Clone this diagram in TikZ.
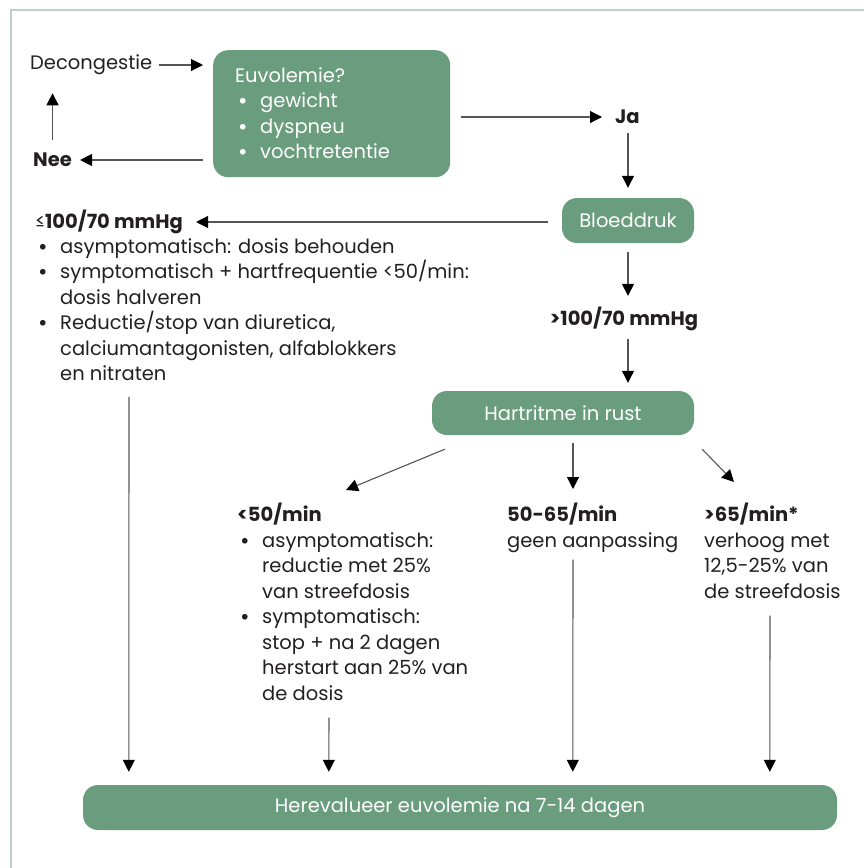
\documentclass[tikz,border=0pt]{standalone}
\usepackage{fontspec}
\setmainfont{Poppins}
\newfontfamily\symfont{DejaVu Sans}
\usetikzlibrary{arrows.meta}
\definecolor{boxgreen}{HTML}{6A9C7E}
\definecolor{framegreen}{HTML}{BCD2C4}
\definecolor{inkgray}{HTML}{231F20}
\definecolor{linegray}{HTML}{555555}
\newcommand{\bl}{\hspace*{2pt}\makebox[23pt][l]{\raisebox{-0.06em}{\symfont •}}}
\newcommand{\ind}{\hspace*{25pt}}

\begin{document}
\begin{tikzpicture}[x=1pt, y=-1pt,
  every node/.style={font=\fontsize{19.5}{25.5}\selectfont, text=inkgray},
  txt/.style={inner sep=0pt, align=left},
  hd/.style={inner sep=0pt, font=\fontsize{19.5}{25.5}\selectfont\bfseries},
  gbox/.style={fill=boxgreen, rounded corners=15pt, text=white, inner sep=0pt},
  arr/.style={draw=linegray, line width=1.1pt, -{Triangle[length=12pt,width=12pt,color=black]}}
]
\useasboundingbox (0,0) rectangle (864,868);
\draw[framegreen, line width=1.5pt] (11,868) -- (11,10) -- (864,10);

% top row
\node[gbox, minimum width=237pt, minimum height=127pt, anchor=north west, align=left, text width=193pt, inner xsep=22pt] (euvo) at (213,50) {Euvolemie?\\\bl gewicht\\\bl dyspneu\\\bl vochtretentie};
\node[txt, anchor=west] (decong) at (30,65) {Decongestie};
\node[hd, anchor=west] (nee) at (33,160) {Nee};
\node[hd, anchor=west] (ja) at (615,117) {Ja};

% blood pressure
\node[gbox, minimum width=132pt, minimum height=45pt] (bloed) at (628,220.5) {Bloeddruk};
\node[hd, anchor=west] (lowbp) at (35,222) {{\mdseries ≤}100/70 mmHg};
\node[txt, anchor=north west] (lowlist) at (35,238) {\bl asymptomatisch: dosis behouden\\\bl symptomatisch + hartfrequentie <50/min:\\\ind dosis halveren\\\bl Reductie/stop van diuretica,\\\ind calciumantagonisten, alfablokkers\\\ind en nitraten};
\node[hd] (highbp) at (624,319) {>100/70 mmHg};

% heart rate
\node[gbox, minimum width=262pt, minimum height=44pt] (hart) at (563,413) {Hartritme in rust};
\node[txt, anchor=north west] (slow) at (237,503) {\textbf{<50/min}\\\bl asymptomatisch:\\\ind reductie met 25\%\\\ind van streefdosis\\\bl symptomatisch:\\\ind stop + na 2 dagen\\\ind herstart aan 25\% van\\\ind de dosis};
\node[txt, anchor=north west] (mid) at (507,503) {\textbf{50-65/min}\\geen aanpassing};
\node[txt, anchor=north west] (fast) at (704,503) {\textbf{>65/min*}\\verhoog met\\12,5-25\% van\\de streefdosis};
\node[gbox, minimum width=754pt, minimum height=45pt] (eval) at (460,807.5) {Herevalueer euvolemie na 7-14 dagen};

\draw[arr, shorten <=6pt, shorten >=10pt] (decong.east) -- (decong.east -| euvo.west);
\draw[arr, shorten <=13pt, shorten >=18pt] (nee.north) -- (nee.north |- decong.south);
\draw[arr, shorten <=10pt, shorten >=8pt] (nee -| euvo.west) -- (nee.east);
\draw[arr, shorten <=11pt, shorten >=13pt] (ja -| euvo.east) -- (ja.west);
\draw[arr, shorten <=9pt, shorten >=10pt] (ja.south -| bloed.north) -- (bloed.north);
\draw[arr, shorten <=14pt, shorten >=13pt] (lowbp -| bloed.west) -- (lowbp.east);
\draw[arr, shorten <=9pt, shorten >=11pt] (bloed.south) -- (bloed.south |- highbp.north);
\draw[arr, shorten <=8pt, shorten >=8pt] (bloed.south |- highbp.south) -- (bloed.south |- hart.north);
\draw[arr] ([xshift=13pt,yshift=-14pt]hart.south west) -- ([xshift=109pt,yshift=13pt]slow.north west);
\draw[arr] ([xshift=10pt,yshift=-8pt]hart.south) -- ([xshift=66pt,yshift=14pt]mid.north west);
\draw[arr] ([xshift=8pt,yshift=-14pt]hart.south east) -- ([xshift=30pt,yshift=21pt]fast.north west);
\draw[arr] ([xshift=94pt,yshift=-16pt]lowlist.south west) -- ([xshift=46pt,yshift=13pt]eval.north west);
\draw[arr] ([xshift=92pt,yshift=-17pt]slow.south west) -- ([xshift=246pt,yshift=13pt]eval.north west);
\draw[arr] ([xshift=66pt,yshift=-7pt]mid.south west) -- ([xshift=490pt,yshift=13pt]eval.north west);
\draw[arr] ([xshift=66pt,yshift=-17pt]fast.south west) -- ([xshift=687pt,yshift=13pt]eval.north west);
\end{tikzpicture}
\end{document}
